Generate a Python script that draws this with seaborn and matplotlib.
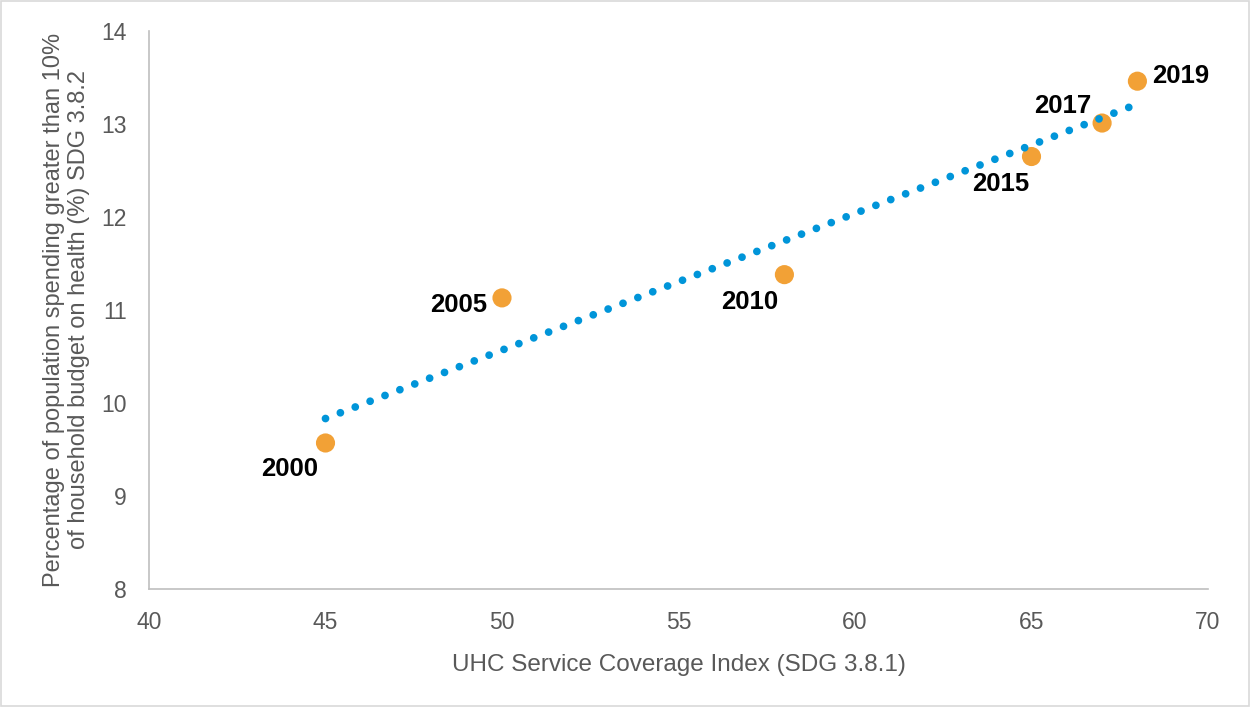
import matplotlib
matplotlib.use("Agg")
import matplotlib.pyplot as plt
from matplotlib.patches import Rectangle
import seaborn as sns
import pandas as pd

# UHC service coverage vs. catastrophic health spending, by year
years = ["2000", "2005", "2010", "2015", "2017", "2019"]
uhc_index = [45, 50, 58, 65, 67, 68]
spending_pct = [9.57, 11.13, 11.38, 12.65, 13.01, 13.46]

x_ticks = [40, 45, 50, 55, 60, 65, 70]
y_ticks = [8, 9, 10, 11, 12, 13, 14]

df = pd.DataFrame({"year": years, "uhc": uhc_index, "spend": spending_pct})

sns.set_theme(style="white")
plt.rcParams["font.family"] = ["Liberation Sans", "DejaVu Sans"]

TEXT_GREY = "#595959"
AXIS_GREY = "#bfbfbf"
ORANGE = "#F2A136"
BLUE = "#0095D9"

fig = plt.figure(figsize=(12.5, 7.07), dpi=100)
ax = fig.add_axes([0.1192, 0.1669, 0.8472, 0.7893])

sns.scatterplot(data=df, x="uhc", y="spend", ax=ax, s=190, color=ORANGE,
                edgecolor="none", zorder=3, legend=False)

# linear trend line, dotted
sns.regplot(data=df, x="uhc", y="spend", ax=ax, scatter=False, ci=None,
            truncate=True,
            line_kws=dict(color=BLUE, lw=5.6, linestyle=(0, (0.001, 2.05)),
                          dash_capstyle="round", zorder=4))

# year labels
offsets = {
    "2000": (-26, -19),
    "2005": (-31, -5),
    "2010": (-25, -19.5),
    "2015": (-22, -19.5),
    "2017": (-28, 12),
    "2019": (31, 3.5),
}
for yr, xv, yv in zip(years, uhc_index, spending_pct):
    ax.annotate(yr, (xv, yv), xytext=offsets[yr], textcoords="offset points",
                ha="center", va="center", fontsize=18.5, fontweight="bold",
                color="black", zorder=5)

ax.set_xlim(40, 70)
ax.set_ylim(8, 14)
ax.set_xticks(x_ticks)
ax.set_yticks(y_ticks)
ax.tick_params(axis="both", length=0, labelsize=16.5, colors=TEXT_GREY, pad=16)

for side in ["top", "right"]:
    ax.spines[side].set_visible(False)
for side in ["left", "bottom"]:
    ax.spines[side].set_color(AXIS_GREY)
    ax.spines[side].set_linewidth(1.2)

ax.set_xlabel("UHC Service Coverage Index (SDG 3.8.1)", fontsize=17.5,
              color=TEXT_GREY, labelpad=14)
ax.set_ylabel("Percentage of population spending greater than 10%\n"
              "of household budget on health (%) SDG 3.8.2",
              fontsize=17, color=TEXT_GREY, linespacing=1.15)
ax.yaxis.set_label_coords(-0.056, 0.5)

fig.patches.append(Rectangle((0.0012, 0.0021), 0.9976, 0.9958,
                             transform=fig.transFigure, fill=False,
                             edgecolor="#d9d9d9", linewidth=1.2))

fig.savefig("out.png", dpi=100, facecolor="white")
